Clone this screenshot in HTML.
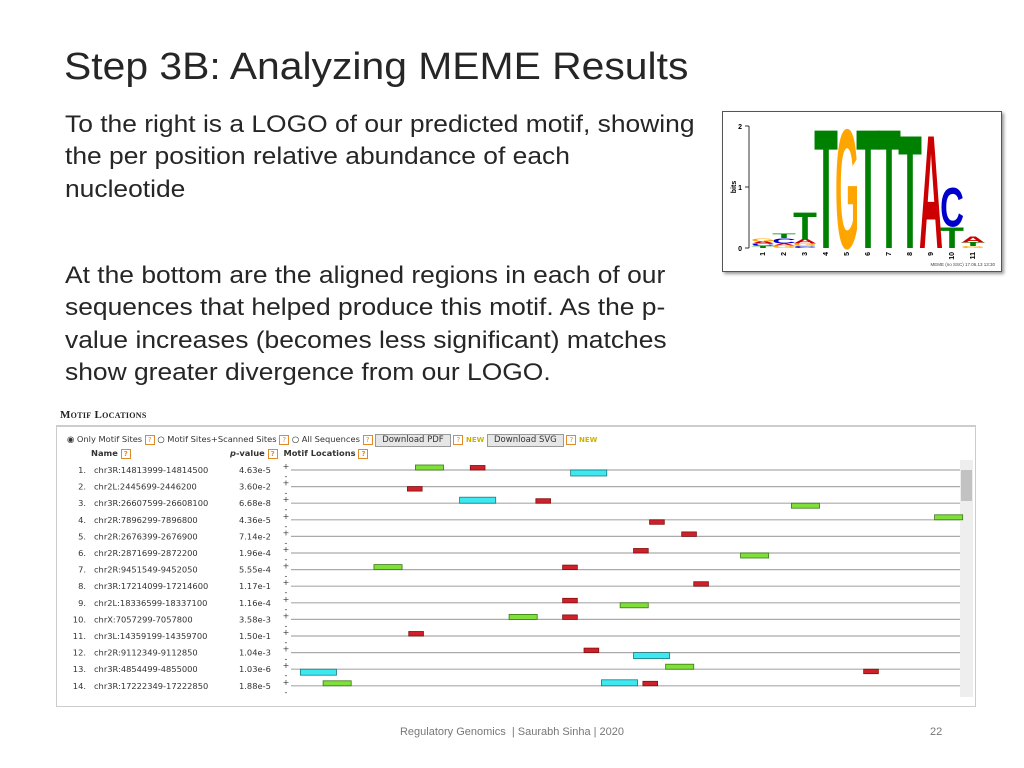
<!DOCTYPE html>
<html><head><meta charset="utf-8">
<style>
body{margin:0;width:1024px;height:768px;background:#fff;position:relative;overflow:hidden;font-family:"Liberation Sans",sans-serif}
.abs{position:absolute}
#title{left:64px;top:46px;font-size:38px;color:#262626;white-space:nowrap;transform:scaleX(1.075);transform-origin:0 0}
.body{left:65px;font-size:24px;color:#262626;line-height:32.3px;white-space:nowrap;transform:scaleX(1.1);transform-origin:0 0}
#logo{left:722px;top:111px;width:278px;height:159px;border:1px solid #555;box-shadow:2px 2px 3px #999;background:#fff}
#panel{left:56px;top:425px;width:918px;height:279px;border:1px solid #ccc;border-top:2px solid #ccc}
.tt{font-family:"DejaVu Sans",sans-serif;font-size:8.3px;color:#333;white-space:nowrap}
.q{display:inline-block;width:8px;height:8px;border:1px solid #e08a2a;font-size:7px;line-height:8px;text-align:center;color:#e08a2a;vertical-align:middle}
.btn{display:inline-block;border:1px solid #999;background:#e6e6e6;padding:0 6px;font-size:8.5px;height:11px;line-height:11px}
</style></head><body>
<div id="title" class="abs">Step 3B: Analyzing MEME Results</div>
<div class="abs body" style="top:109px">To the right is a LOGO of our predicted motif, showing<br>the per position relative abundance of each<br>nucleotide</div>
<div class="abs body" style="top:260px">At the bottom are the aligned regions in each of our<br>sequences that helped produce this motif. As the p-<br>value increases (becomes less significant) matches<br>show greater divergence from our LOGO.</div>

<div id="logo" class="abs">
<svg id="logosvg" width="278" height="159" xmlns="http://www.w3.org/2000/svg"></svg>
</div>

<div class="abs" style="left:60px;top:409px;font-family:'Liberation Serif',serif;font-weight:bold;font-size:11px;color:#222;font-variant:small-caps;letter-spacing:0.3px">Motif Locations</div>
<div id="panel" class="abs"></div>
<div class="abs tt" style="left:67px;top:434px">
<span>◉</span> Only Motif Sites <span class="q">?</span> <span>○</span> Motif Sites+Scanned Sites <span class="q">?</span> <span>○</span> All Sequences <span class="q">?</span>
<span class="btn">Download PDF</span> <span class="q">?</span> <b style="color:#c9b400;font-size:7px">NEW</b>
<span class="btn">Download SVG</span> <span class="q">?</span> <b style="color:#c9b400;font-size:7px">NEW</b></div>
<div class="abs tt" style="left:91px;top:448px;font-weight:bold">Name <span class="q">?</span></div>
<div class="abs tt" style="left:230px;top:448px;font-weight:bold"><i>p</i>-value <span class="q">?</span> &nbsp;Motif Locations <span class="q">?</span></div>
<div class="abs" style="left:960px;top:460px;width:13px;height:237px;background:#eee"><div style="position:absolute;left:1px;top:10px;width:11px;height:31px;background:#c2c2c2"></div></div>
<svg id="tbl" class="abs" style="left:0;top:0" width="1024" height="768" xmlns="http://www.w3.org/2000/svg"></svg>

<div class="abs" style="left:0;width:1024px;top:726px;text-align:center;font-size:11px;color:#777">Regulatory Genomics &nbsp;| Saurabh Sinha | 2020</div>
<div class="abs" style="left:930px;top:726px;font-size:11px;color:#777">22</div>

<script>
// ---- logo data ----
const logoCols=[1,2,3,4,5,6,7,8,9,10,11];
const logoStacks=[
 [["T",0.03],["C",0.04],["A",0.04],["G",0.05]],
 [["G",0.04],["A",0.03],["C",0.09],["T",0.07]],
 [["C",0.03],["G",0.04],["A",0.07],["T",0.46]],
 [["T",2.0]],[["G",2.0]],[["T",2.0]],[["T",2.0]],[["T",1.9]],[["A",1.9]],
 [["T",0.35],["C",0.65]],
 [["G",0.03],["T",0.06],["A",0.1]]
];
const yTicks=[0,1,2];
const colors={T:"#008000",G:"#FFA500",A:"#CC0000",C:"#0000CC"};
// ---- motif site data ----
const seqNames=["chr3R:14813999-14814500","chr2L:2445699-2446200","chr3R:26607599-26608100","chr2R:7896299-7896800","chr2R:2676399-2676900","chr2R:2871699-2872200","chr2R:9451549-9452050","chr3R:17214099-17214600","chr2L:18336599-18337100","chrX:7057299-7057800","chr3L:14359199-14359700","chr2R:9112349-9112850","chr3R:4854499-4855000","chr3R:17222349-17222850"];
const pValues=["4.63e-5","3.60e-2","6.68e-8","4.36e-5","7.14e-2","1.96e-4","5.55e-4","1.17e-1","1.16e-4","3.58e-3","1.50e-1","1.04e-3","1.03e-6","1.88e-5"];
const siteRow=  [0,0,0, 1, 2,2,2, 3,3, 4, 5,5, 6,6, 7, 8,8, 9,9, 10, 11,11, 12,12,12, 13,13,13];
const siteStart=[93,134,209, 87, 126,183,374, 268,481, 292, 256,336, 62,203, 301, 203,246, 163,203, 88, 219,256, 7,280,428, 24,232,263];
const siteMotif=["g","r","c", "r", "c","r","g", "r","g", "r", "r","g", "g","r", "r", "r","g", "g","r", "r", "r","c", "c","g","r", "g","c","r"];
const siteStrand=["+","+","-", "-", "+","+","-", "-","+", "+", "+","-", "+","+", "+", "+","-", "+","+", "+", "+","-", "-","+","-", "+","+","+"];
const motifLen={g:21,r:11,c:27};
const motifFill={g:"#80e03a",r:"#d0202a",c:"#3de8f0"};
const motifStroke={g:"#3a7a10",r:"#801010",c:"#1a7a80"};
const seqLen=500;

const NS="http://www.w3.org/2000/svg";
function mk(parent,tag,attrs){const e=document.createElementNS(NS,tag);for(const k in attrs)e.setAttribute(k,attrs[k]);parent.appendChild(e);return e;}

// logo
const L=document.getElementById('logosvg');
const y0=136, pxPerBit=61, colX=c=>29.5+(c-1)*21, colW=21;
const yb=v=>y0-v*pxPerBit;
const ax=mk(L,'line',{x1:26,x2:26,y1:yb(2),y2:yb(0),stroke:'#333','stroke-width':1});

yTicks.forEach(t=>{
 const tk=mk(L,'line',{x1:22,x2:26,y1:yb(t),y2:yb(t),stroke:'#333'});
 
 const tx=mk(L,'text',{x:19,y:yb(t)+3,'font-size':7,'font-weight':'bold','text-anchor':'end','font-family':'Liberation Sans'});tx.textContent=t;
 
});
const yl=mk(L,'text',{x:0,y:0,'font-size':7,'font-weight':'bold','font-family':'Liberation Sans',transform:`translate(13,${yb(1)}) rotate(-90)`,'text-anchor':'middle'});yl.textContent='bits';

logoCols.forEach((c,i)=>{
 let acc=0;
 logoStacks[i].forEach(([ch,h])=>{
  const base=yb(acc), hp=h*pxPerBit;
  const t=mk(L,'text',{x:-4,y:0,'font-size':100,'font-weight':'bold','font-family':'Liberation Sans',fill:colors[ch],textLength:68,lengthAdjust:'spacingAndGlyphs',transform:`translate(${colX(c)},${base}) scale(${colW/60},${hp/71.5})`});
  t.textContent=ch;
  
  acc+=h;
 });
 const n=mk(L,'text',{x:0,y:0,'font-size':7,'font-weight':'bold','font-family':'Liberation Sans',transform:`translate(${colX(c)+colW/2+2},${y0+4}) rotate(-90)`,'text-anchor':'end'});n.textContent=c;
 
});
const cr=mk(L,'text',{x:272,y:154,'font-size':4.5,'text-anchor':'end','font-family':'Liberation Sans',fill:'#444'});cr.textContent='MEME (no SSC) 17.06.13 13:30';


// table
const T=document.getElementById('tbl');
const lineX0=291, lineX1=960, rowY=r=>470+r*16.6;
const xS=bp=>lineX0+bp*(lineX1-lineX0)/seqLen;
seqNames.forEach((nm,r)=>{
 const y=rowY(r);
 const a=mk(T,'text',{x:86,y:y+3,'font-size':8.3,'font-family':'DejaVu Sans','text-anchor':'end',fill:'#333'});a.textContent=(r+1)+'.';
 
 const b=mk(T,'text',{x:94,y:y+3,'font-size':8.3,'font-family':'DejaVu Sans',fill:'#333'});b.textContent=nm;
 
 const p=mk(T,'text',{x:239,y:y+3,'font-size':8.3,'font-family':'DejaVu Sans',fill:'#333'});p.textContent=pValues[r];
 
 const pl=mk(T,'text',{x:286,y:y-1,'font-size':8,'font-family':'DejaVu Sans','text-anchor':'middle',fill:'#333'});pl.textContent='+';
 
 const mi=mk(T,'text',{x:286,y:y+9,'font-size':8,'font-family':'DejaVu Sans','text-anchor':'middle',fill:'#333'});mi.textContent='-';
 
 const ln=mk(T,'line',{x1:lineX0,x2:lineX1,y1:y,y2:y,stroke:'#aaa','stroke-width':1.2});
 
});
siteRow.forEach((r,i)=>{
 const m=siteMotif[i], y=rowY(r), h=m==='c'?6:m==='g'?5:4.5;
 const x=xS(siteStart[i]), w=xS(siteStart[i]+motifLen[m])-x;
 const rc=mk(T,'rect',{x:x,y:siteStrand[i]==='+'?y-h:y,width:w,height:h,fill:motifFill[m],stroke:motifStroke[m],'stroke-width':0.8});
 
});
</script>
</body></html>
